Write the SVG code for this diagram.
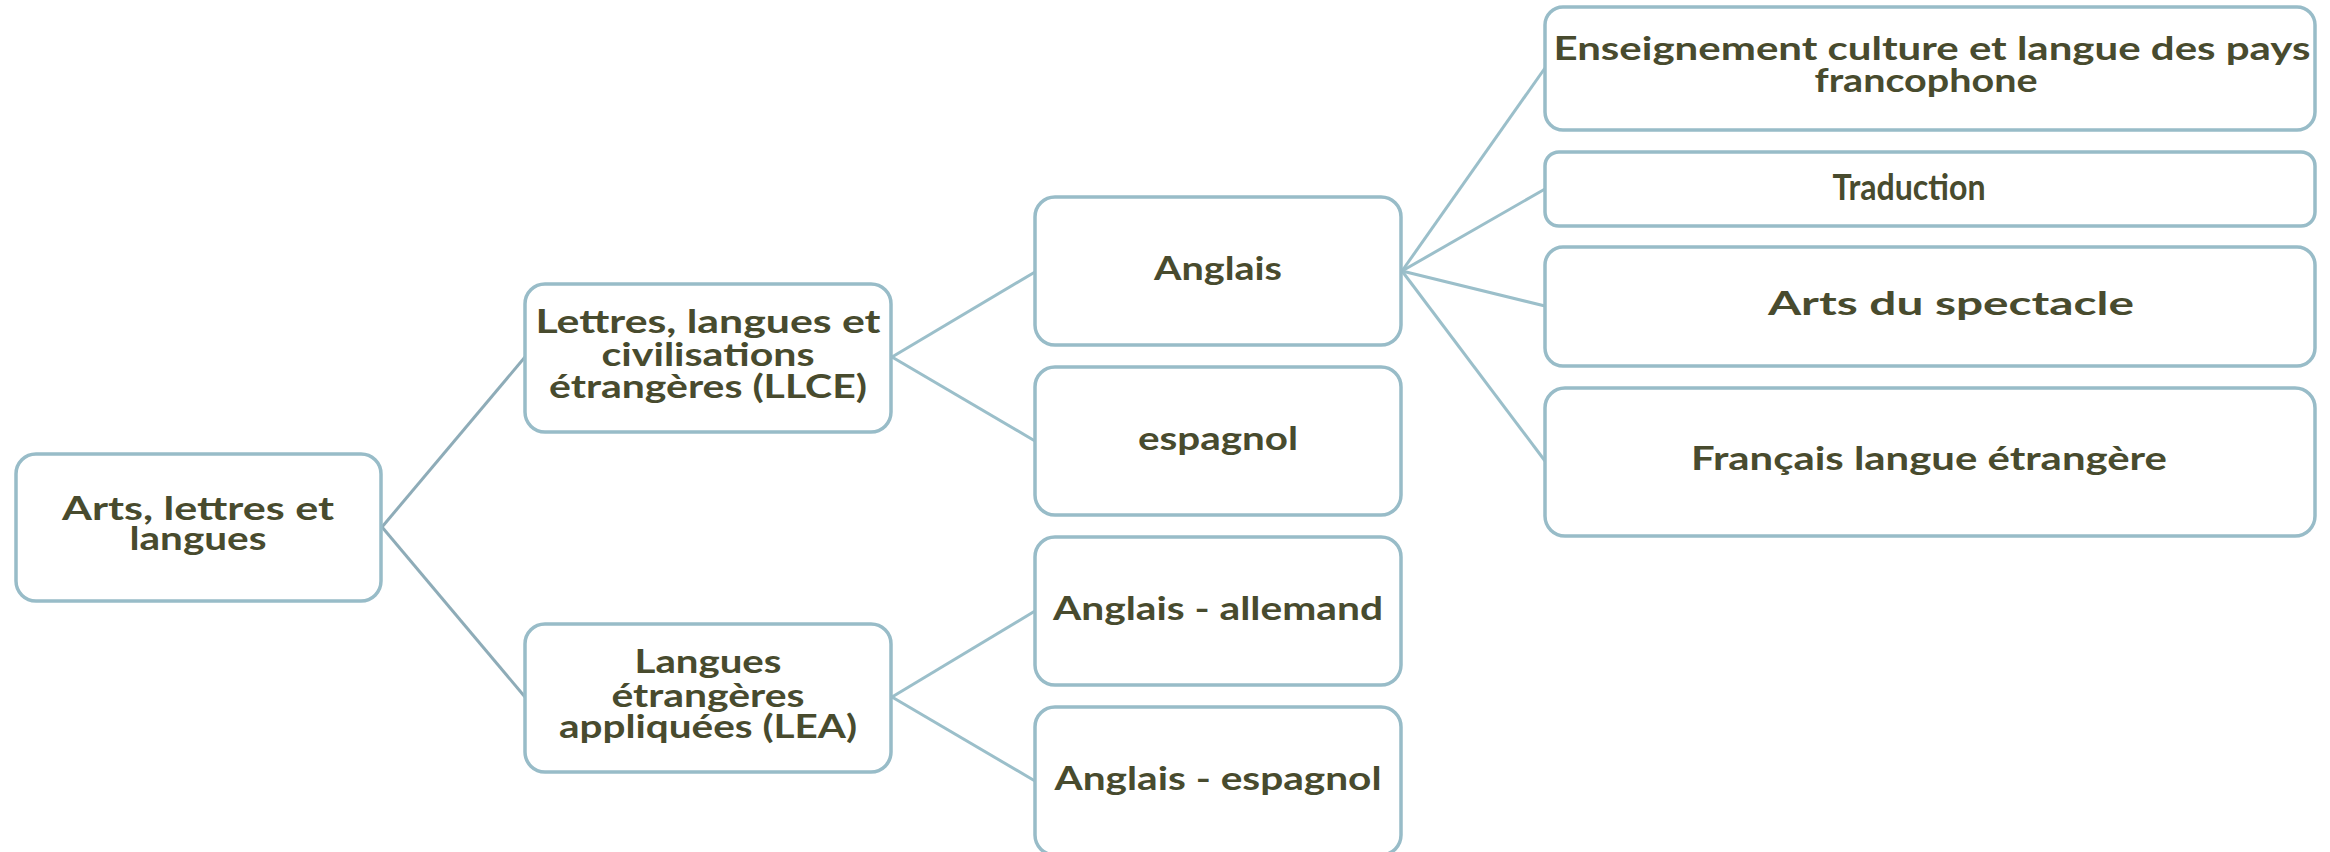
<svg xmlns="http://www.w3.org/2000/svg" width="2330" height="852" viewBox="0 0 2330 852">
<style>
.box{fill:#ffffff;stroke:#98bcc8;stroke-width:3.5}
.t{font-family:Lato,"Open Sans","Liberation Sans",sans-serif;font-weight:bold;font-size:32px;fill:#484b2e;text-anchor:middle}
.c{font-size:33px}
.tr{font-size:37px}
.ln{stroke:#9bbfca;stroke-width:3;fill:none}
.lr{stroke:#8eacb8;stroke-width:3;fill:none}
</style>
<rect width="2330" height="852" fill="#ffffff"/>
<g id="connectors">
<line class="lr" x1="382" y1="527" x2="525" y2="357"/>
<line class="lr" x1="382" y1="527" x2="525" y2="697"/>
<line class="ln" x1="892" y1="357" x2="1035" y2="272"/>
<line class="ln" x1="892" y1="357" x2="1035" y2="441"/>
<line class="ln" x1="892" y1="697" x2="1035" y2="611"/>
<line class="ln" x1="892" y1="697" x2="1035" y2="781"/>
<line class="ln" x1="1402" y1="271" x2="1545" y2="68"/>
<line class="ln" x1="1402" y1="271" x2="1545" y2="189"/>
<line class="ln" x1="1402" y1="271" x2="1545" y2="306"/>
<line class="ln" x1="1402" y1="271" x2="1545" y2="461"/>
</g>
<g id="root">
<rect class="box" x="16" y="454" width="365" height="147" rx="20"/>
<text class="t" x="198" y="520" textLength="272" lengthAdjust="spacingAndGlyphs">Arts, lettres et</text>
<text class="t" x="198" y="550" textLength="137" lengthAdjust="spacingAndGlyphs">langues</text>
</g>
<g id="llce">
<rect class="box" x="525" y="284" width="366" height="148" rx="20"/>
<text class="t" x="708" y="333" textLength="345" lengthAdjust="spacingAndGlyphs">Lettres, langues et</text>
<text class="t" x="708" y="366" textLength="213" lengthAdjust="spacingAndGlyphs">civilisations</text>
<text class="t" x="708" y="398" textLength="318" lengthAdjust="spacingAndGlyphs">étrangères (LLCE)</text>
</g>
<g id="lea">
<rect class="box" x="525" y="624" width="366" height="148" rx="20"/>
<text class="t" x="708" y="673" textLength="147" lengthAdjust="spacingAndGlyphs">Langues</text>
<text class="t" x="708" y="707" textLength="193" lengthAdjust="spacingAndGlyphs">étrangères</text>
<text class="t" x="708" y="738" textLength="298" lengthAdjust="spacingAndGlyphs">appliquées (LEA)</text>
</g>
<g id="anglais">
<rect class="box" x="1035" y="197" width="366" height="148" rx="20"/>
<text class="t" x="1218" y="280" textLength="128" lengthAdjust="spacingAndGlyphs">Anglais</text>
</g>
<g id="espagnol">
<rect class="box" x="1035" y="367" width="366" height="148" rx="20"/>
<text class="t" x="1218" y="450" textLength="160" lengthAdjust="spacingAndGlyphs">espagnol</text>
</g>
<g id="anglais-allemand">
<rect class="box" x="1035" y="537" width="366" height="148" rx="20"/>
<text class="t" x="1218" y="620" textLength="330" lengthAdjust="spacingAndGlyphs">Anglais - allemand</text>
</g>
<g id="anglais-espagnol">
<rect class="box" x="1035" y="707" width="366" height="148" rx="20"/>
<text class="t" x="1218" y="790" textLength="327" lengthAdjust="spacingAndGlyphs">Anglais - espagnol</text>
</g>
<g id="enseignement">
<rect class="box" x="1545" y="7" width="770" height="123" rx="18"/>
<text class="t c" x="1932" y="60" textLength="757" lengthAdjust="spacingAndGlyphs">Enseignement culture et langue des pays</text>
<text class="t c" x="1926" y="92" textLength="223" lengthAdjust="spacingAndGlyphs">francophone</text>
</g>
<g id="traduction">
<rect class="box" x="1545" y="152" width="770" height="74" rx="14"/>
<text class="t tr" x="1909" y="200" textLength="153" lengthAdjust="spacingAndGlyphs">Traduction</text>
</g>
<g id="arts-spectacle">
<rect class="box" x="1545" y="247" width="770" height="119" rx="18"/>
<text class="t" x="1951" y="315" textLength="366" lengthAdjust="spacingAndGlyphs">Arts du spectacle</text>
</g>
<g id="fle">
<rect class="box" x="1545" y="388" width="770" height="148" rx="20"/>
<text class="t" x="1929" y="470" textLength="476" lengthAdjust="spacingAndGlyphs">Français langue étrangère</text>
</g>
</svg>
